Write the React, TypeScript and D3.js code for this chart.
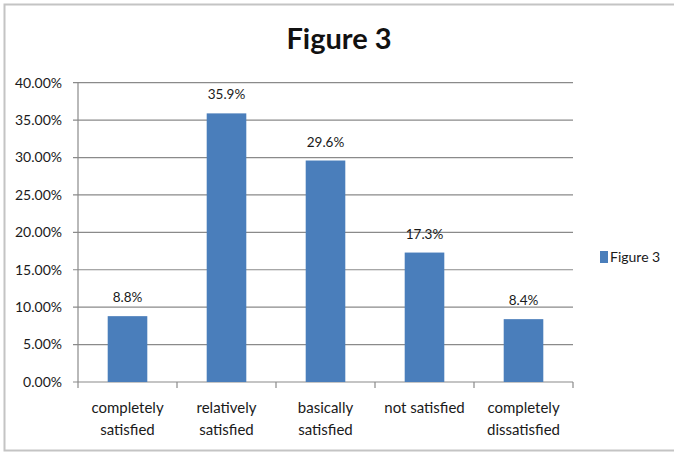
import React from "react";
import * as d3 from "d3";

const categories: string[][] = [
  ["completely", "satisfied"],
  ["relatively", "satisfied"],
  ["basically", "satisfied"],
  ["not satisfied"],
  ["completely", "dissatisfied"],
];
const values: number[] = [8.8, 35.9, 29.6, 17.3, 8.4];
const yTicks: number[] = [0, 5, 10, 15, 20, 25, 30, 35, 40];
const title = "Figure 3";
const seriesName = "Figure 3";

const W = 674;
const H = 452;
const left = 78;
const right = 573;
const top = 82.7;
const bottom = 382;
const BLUE = "#4a7ebb";
const GRID = "#8a8a8a";
const FONT = "Lato, 'Open Sans', sans-serif";

export default function App() {
  const keys = categories.map((c) => c.join(" "));
  const x = d3.scaleBand<string>().domain(keys).range([left, right]).paddingInner(0.6).paddingOuter(0.3);
  const bandEdges = d3.scaleBand<string>().domain(keys).range([left, right]).padding(0);
  const y = d3.scaleLinear().domain([0, 40]).range([bottom, top]);

  return (
    <div style={{ position: "fixed", left: 0, top: 0 }}>
      <svg width={W} height={H} style={{ display: "block", background: "#fff" }}>
        <rect x={4.5} y={4.5} width={W + 10} height={446} fill="#fff" stroke="#c4c4c4" strokeWidth={2} />
        <text x={339} y={49} textAnchor="middle" fontFamily={FONT} fontWeight={700} fontSize={29} fill="#111">
          {title}
        </text>
        {yTicks.map((t) => (
          <g key={t}>
            <line x1={left - 5} x2={right} y1={y(t)} y2={y(t)} stroke={GRID} strokeWidth={1.2} />
            <text x={62} y={y(t)} dy="0.35em" textAnchor="end" fontFamily={FONT} fontSize={14} fill="#1a1a1a">
              {t.toFixed(2)}%
            </text>
          </g>
        ))}
        <line x1={left} x2={left} y1={top} y2={bottom} stroke={GRID} strokeWidth={1.2} />
        {keys.map((k, i) => (
          <line key={"t" + i} x1={bandEdges(k)!} x2={bandEdges(k)!} y1={bottom} y2={bottom + 6} stroke={GRID} strokeWidth={1.2} />
        ))}
        <line x1={right} x2={right} y1={bottom} y2={bottom + 6} stroke={GRID} strokeWidth={1.2} />
        {values.map((v, i) => (
          <g key={"b" + i}>
            <rect x={x(keys[i])!} y={y(v)} width={x.bandwidth()} height={bottom - y(v)} fill={BLUE} />
            <text
              x={x(keys[i])! + x.bandwidth() / 2}
              y={y(v) - 14}
              textAnchor="middle"
              fontFamily={FONT}
              fontSize={13.5}
              fill="#1a1a1a"
            >
              {v.toFixed(1)}%
            </text>
          </g>
        ))}
        {categories.map((lines, i) => (
          <text
            key={"c" + i}
            x={bandEdges(keys[i])! + bandEdges.bandwidth() / 2}
            y={413}
            textAnchor="middle"
            fontFamily={FONT}
            fontSize={15}
            fill="#1a1a1a"
          >
            {lines.map((l, j) => (
              <tspan key={j} x={bandEdges(keys[i])! + bandEdges.bandwidth() / 2} dy={j === 0 ? 0 : 22}>
                {l}
              </tspan>
            ))}
          </text>
        ))}
        <rect x={600} y={251} width={8} height={12} fill={BLUE} />
        <text x={610} y={257} dy="0.35em" fontFamily={FONT} fontSize={14} fill="#1a1a1a">
          {seriesName}
        </text>
      </svg>
    </div>
  );
}
